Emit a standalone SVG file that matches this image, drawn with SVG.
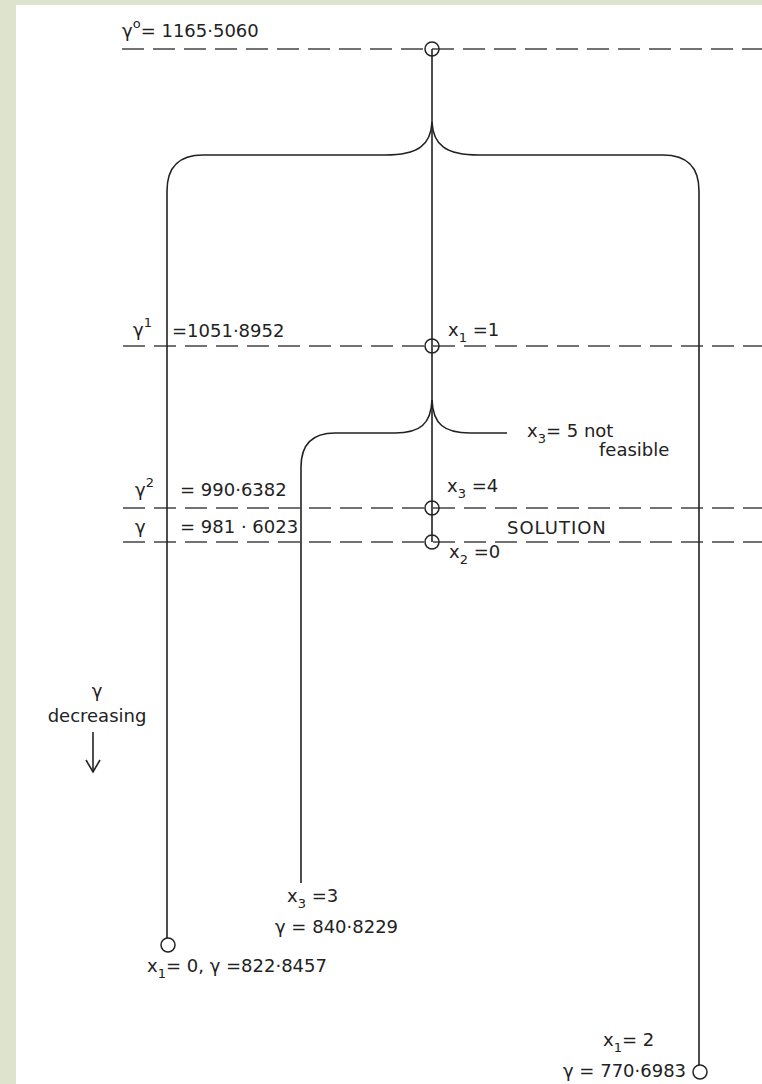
<svg xmlns="http://www.w3.org/2000/svg" width="762" height="1084" viewBox="0 0 762 1084">
<style>
text{font-family:"DejaVu Sans","Liberation Sans",sans-serif;font-size:18px;fill:#222}
.sup{font-size:13px}
.lvl{stroke:#444;stroke-width:1.6;stroke-dasharray:22 9;fill:none}
.br{stroke:#222;stroke-width:1.6;fill:none}
.nd{stroke:#222;stroke-width:1.5;fill:none}
</style>
<rect width="762" height="1084" fill="#dde3cc"/>
<rect x="16" y="5" width="746" height="1079" fill="#fff"/>
<g id="levels">
<line class="lvl" x1="122" y1="49" x2="762" y2="49"/>
<line class="lvl" x1="123" y1="346" x2="762" y2="346"/>
<line class="lvl" x1="123" y1="508" x2="762" y2="508"/>
<line class="lvl" x1="123" y1="542" x2="762" y2="542"/>
</g>
<g id="connectors">
<line class="br" x1="432" y1="49" x2="432" y2="542"/>
<path class="br" d="M432,122 C431,145 418,155 385,155 L203,155 Q167,155 167,191 L167,938"/>
<path class="br" d="M432,122 C433,145 446,155 479,155 L663,155 Q699,155 699,191 L699,1065"/>
<path class="br" d="M432,400 C431,424 420,433 395,433 L335,433 Q301,433 301,467 L301,883"/>
<path class="br" d="M432,400 C433,424 444,433 470,433 L507,433"/>
</g>
<g id="n0"><circle class="nd" cx="432" cy="49" r="7"/></g>
<g id="n1"><circle class="nd" cx="432" cy="346" r="7"/></g>
<g id="n2"><circle class="nd" cx="432" cy="508" r="7"/></g>
<g id="n3"><circle class="nd" cx="432" cy="542" r="7"/></g>
<g id="n4"><circle class="nd" cx="168" cy="945" r="7"/></g>
<g id="n5"><circle class="nd" cx="700" cy="1072" r="7"/></g>
<g id="labels">
<text x="122" y="37">γ<tspan class="sup" dy="-9">o</tspan><tspan dy="9">= 1165·5060</tspan></text>
<text x="133" y="336">γ<tspan class="sup" dy="-9">1</tspan></text>
<text x="172" y="337">=1051·8952</text>
<text x="448" y="336">x<tspan class="sup" dy="6">1</tspan><tspan dy="-6"> =1</tspan></text>
<text x="527" y="437">x<tspan class="sup" dy="6">3</tspan><tspan dy="-6">= 5 not</tspan></text>
<text x="599" y="456">feasible</text>
<text x="135" y="496">γ<tspan class="sup" dy="-9">2</tspan></text>
<text x="180" y="496">= 990·6382</text>
<text x="447" y="492">x<tspan class="sup" dy="6">3</tspan><tspan dy="-6"> =4</tspan></text>
<text x="135" y="533">γ</text>
<text x="180" y="533">= 981 · 6023</text>
<text x="507" y="534" letter-spacing="1">SOLUTION</text>
<text x="449" y="558">x<tspan class="sup" dy="6">2</tspan><tspan dy="-6"> =0</tspan></text>
<text x="97" y="697" text-anchor="middle">γ</text>
<text x="97" y="722" text-anchor="middle">decreasing</text>
<text x="287" y="902">x<tspan class="sup" dy="6">3</tspan><tspan dy="-6"> =3</tspan></text>
<text x="275" y="933">γ = 840·8229</text>
<text x="147" y="972">x<tspan class="sup" dy="6">1</tspan><tspan dy="-6">= 0,  γ =822·8457</tspan></text>
<text x="603" y="1046">x<tspan class="sup" dy="6">1</tspan><tspan dy="-6">= 2</tspan></text>
<text x="563" y="1077">γ = 770·6983</text>
</g>
<g id="arrow">
<line class="br" x1="93" y1="732" x2="93" y2="771"/>
<polyline class="br" points="86,760 93,772 100,760"/>
</g>
</svg>
